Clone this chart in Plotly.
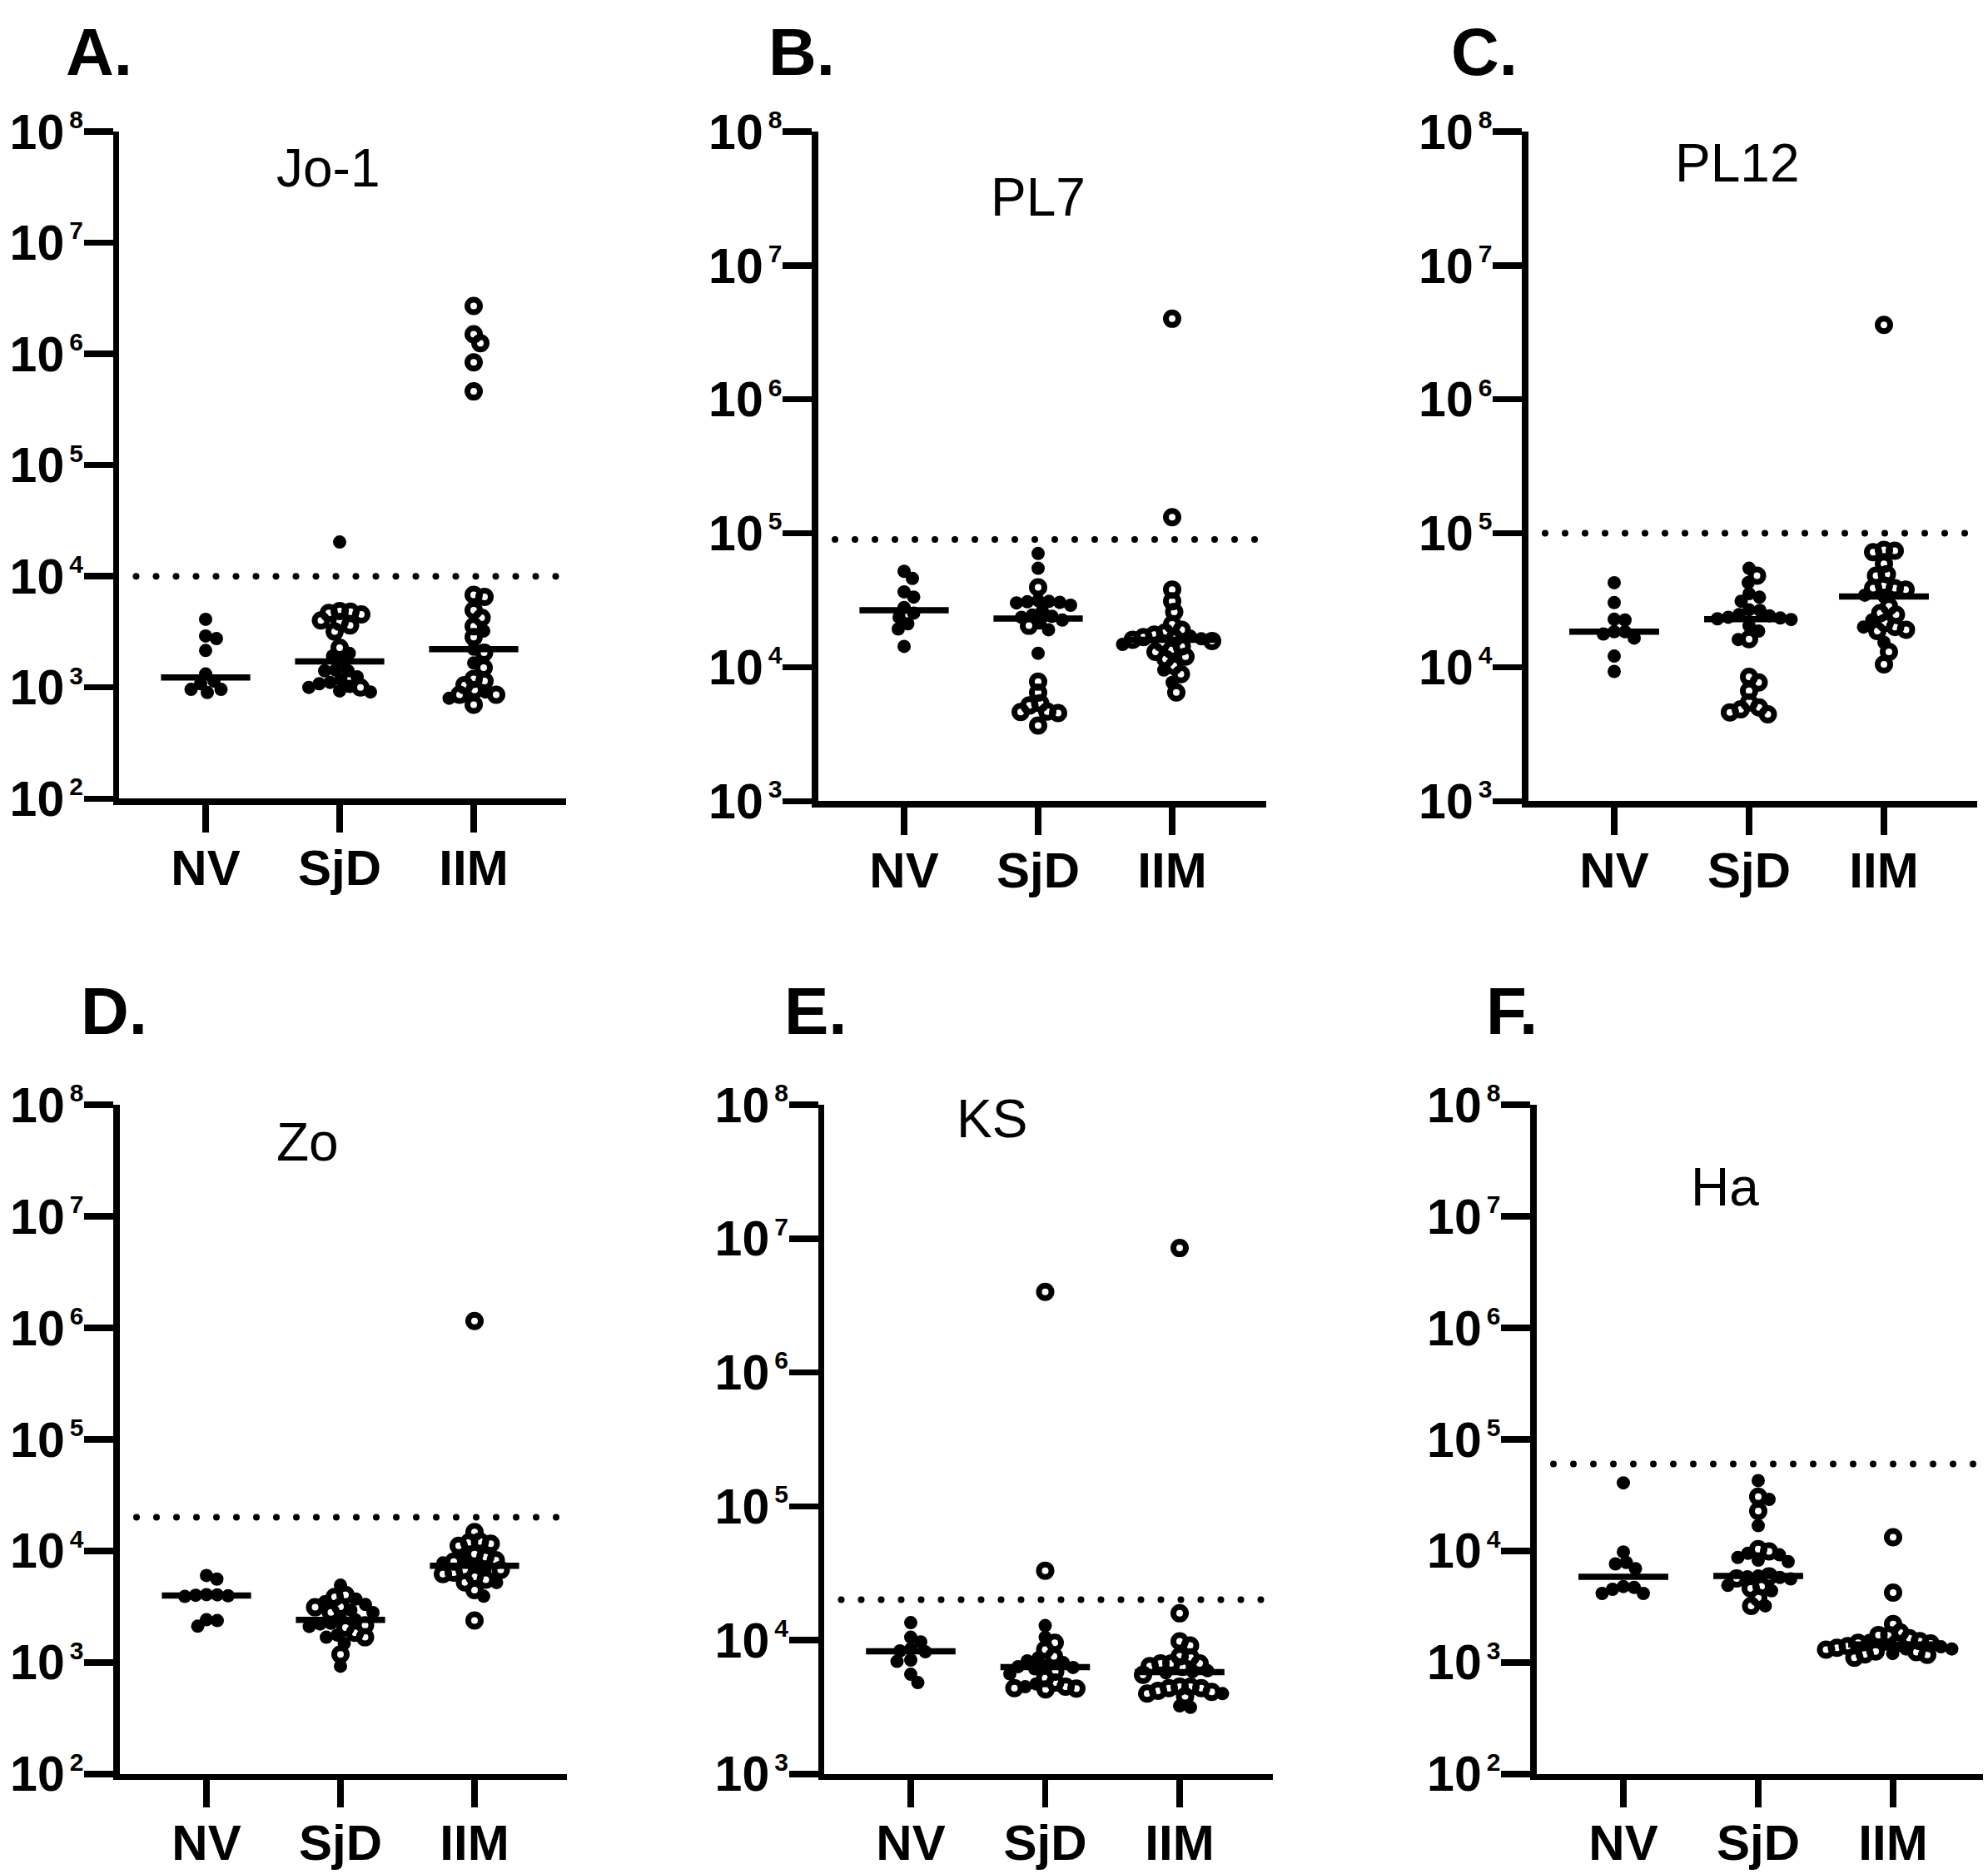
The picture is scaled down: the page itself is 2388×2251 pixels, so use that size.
import numpy as np
import plotly.graph_objects as go

# ---------------- data ----------------
GROUPS = ["NV", "SjD", "IIM"]
PANEL_TITLES = ["Jo-1", "PL7", "PL12", "Zo", "KS", "Ha"]
PANEL_LETTERS = ["A.", "B.", "C.", "D.", "E.", "F."]
CUTOFFS = [1e4, 9e4, 1e5, 2e4, 2e4, 6e4]
Y_LOG_MIN = [2, 3, 3, 2, 3, 2]
Y_LOG_MAX = 8

# A. Jo-1
A_NV_filled = [4100, 2750, 2900, 2150, 1320, 1140, 1080, 960, 960, 900]
A_SjD_filled = [20300, 1920, 2030, 1710, 1410, 1430, 1410, 1245, 1175, 1080, 1110, 1020, 910, 930, 1000]
A_SjD_open = [4870, 4680, 4540, 4800, 3890, 4000, 3180, 3610, 2280, 1000]
A_IIM_filled = [3220, 2210, 1660, 910, 800]
A_IIM_open = [2.7e6, 1.5e6, 1.25e6, 8.4e5, 4.6e5, 6530, 6800, 4950, 4240, 3550, 2835, 2050,
              1505, 1195, 1140, 1050, 860, 860, 950, 700]

# B. PL7
B_NV_filled = [46000, 52000, 33400, 36500, 23600, 25350, 27900, 19300, 21100, 14300]
B_SjD_filled = [70600, 54800, 31000, 30500, 30800, 30200, 29000, 31500, 26500, 23600, 21400,
                24000, 22500, 19050, 24500, 12700]
B_SjD_open = [39500, 20400, 7800, 6460, 5380, 5180, 4630, 4550, 4660, 3670]
B_IIM_filled = [17000, 16300, 14800, 9530, 7690]
B_IIM_open = [4.0e6, 1.32e5, 38000, 31100, 25900, 20900, 19000, 18150, 17500, 16800, 16500,
              16000, 15700, 15200, 14300, 13500, 13000, 12000, 11540, 10240, 8870, 6470]

# C. PL12
C_NV_filled = [42750, 30350, 22500, 22800, 17700, 18400, 16500, 18400, 12100, 9300]
C_SjD_filled = [54800, 42800, 33300, 35400, 31100, 23600, 24200, 23000, 26550, 23300, 24700,
                26850, 22700, 20400, 18600, 16100]
C_SjD_open = [48200, 16200, 8470, 7690, 6670, 5460, 5010, 4840, 4600, 4450]
C_IIM_filled = [33700, 34500, 19950, 22500, 15340]
C_IIM_open = [3.6e6, 72300, 75100, 74100, 59100, 48200, 49400, 40800, 38900, 38000, 38900,
              28500, 25350, 24700, 21400, 19050, 19950, 18600, 13000, 10500]

# D. Zo
D_NV_filled = [5580, 6010, 4030, 3900, 4050, 3950, 4000, 2110, 2410, 2370]
D_SjD_filled = [4920, 3300, 3490, 3700, 2940, 2800, 2210, 2400, 2500, 1760, 2240, 1680, 1480, 923, 2100]
D_SjD_open = [3850, 4030, 3150, 3120, 2810, 2050, 2150, 1840, 1680, 1180]
D_IIM_filled = [8600, 7350, 6900, 5200, 3920, 7800]
D_IIM_open = [1.15e6, 14760, 11940, 11090, 11580, 12140, 9330, 8810, 8000, 8250, 6740, 6190,
              5850, 6740, 6370, 5210, 5520, 4450, 2370]

# E. KS
E_NV_filled = [13490, 9680, 10500, 8570, 8170, 8300, 7090, 6930, 5550, 4810]
E_SjD_filled = [12830, 10500, 7360, 6240, 6330, 6100, 4480, 4700, 6400, 6800, 7000, 5600]
E_SjD_open = [4.0e6, 33000, 9550, 8490, 7550, 4340, 4480, 4280, 4370, 4810, 5800, 5200]
E_IIM_filled = [5810, 3980, 3140, 3220, 5700, 5900]
E_IIM_open = [8.5e6, 15850, 9790, 9120, 7550, 7430, 6700, 6400, 6700, 6700, 4480, 4180, 4370,
              3980, 3800, 4480, 4370, 6300, 4100, 5500]

# F. Ha
F_NV_filled = [40700, 9770, 7870, 7640, 6930, 4150, 4790, 4520, 4700, 4150]
F_SjD_filled = [42660, 28960, 16830, 8240, 8710, 8000, 9220, 9500, 5780, 5600, 5950, 4900, 3210, 4390, 5850]
F_SjD_open = [30600, 22750, 10350, 9890, 5650, 4800, 4610, 3810, 3210, 5900]
F_IIM_filled = [1320, 1320, 1570, 1450, 1380, 1200]
F_IIM_open = [13250, 4220, 2210, 1760, 1860, 1760, 1480, 1180, 1100, 1170, 1235, 1500, 1480,
              1400, 1650, 1300, 1250, 1550, 1350]

PANEL_DATA = [
    [(A_NV_filled, []), (A_SjD_filled, A_SjD_open), (A_IIM_filled, A_IIM_open)],
    [(B_NV_filled, []), (B_SjD_filled, B_SjD_open), (B_IIM_filled, B_IIM_open)],
    [(C_NV_filled, []), (C_SjD_filled, C_SjD_open), (C_IIM_filled, C_IIM_open)],
    [(D_NV_filled, []), (D_SjD_filled, D_SjD_open), (D_IIM_filled, D_IIM_open)],
    [(E_NV_filled, []), (E_SjD_filled, E_SjD_open), (E_IIM_filled, E_IIM_open)],
    [(F_NV_filled, []), (F_SjD_filled, F_SjD_open), (F_IIM_filled, F_IIM_open)],
]

# ---------------- layout geometry (page pixels) ----------------
W, H = 2388, 2251
LW = 7.5
FONT = "Liberation Sans, Arial, Helvetica, sans-serif"
GEOM = [
    dict(L=139.5, nv=247, s=161, R=680, top=158, bot=963, lx=77, ly=62, tx=394, ty=202),
    dict(L=979, nv=1086, s=161, R=1521, top=158, bot=966, lx=921, ly=62, tx=1247, ty=237),
    dict(L=1832, nv=1939, s=162, R=2375, top=158, bot=966, lx=1741, ly=62, tx=2086, ty=196),
    dict(L=140, nv=248, s=161, R=681, top=1327, bot=2134.5, lx=95, ly=1214, tx=369, ty=1372),
    dict(L=986.5, nv=1094, s=161.5, R=1529, top=1327, bot=2134.5, lx=940, ly=1214, tx=1191, ty=1344),
    dict(L=1842, nv=1950, s=162, R=2382, top=1327, bot=2134.5, lx=1783, ly=1214, tx=2072, ty=1426),
]
SWARM_D = 13.0


def swarm(ypx, d):
    """Simple beeswarm: place each point as close to the centre as possible without overlap."""
    n = len(ypx)
    xs = np.zeros(n)
    placed = []
    order = np.argsort(ypx)
    for i in order:
        y = ypx[i]
        chosen = 0.0
        for k in range(0, 400):
            found = False
            for sgn in ([0] if k == 0 else [1, -1]):
                off = sgn * k * 0.5
                if all((off - px) ** 2 + (y - py) ** 2 >= d * d for px, py in placed):
                    chosen = off
                    found = True
                    break
            if found:
                break
        placed.append((chosen, y))
        xs[i] = chosen
    return xs


def sup_label(e):
    return f"<b>10<sup><span style='font-size:30px'>\u2009{e}</span></sup></b>"


fig = go.Figure()
layout = dict(
    width=W, height=H, margin=dict(l=0, r=0, t=0, b=0, pad=0, autoexpand=False), autosize=False,
    paper_bgcolor="white", plot_bgcolor="white", showlegend=False,
    font=dict(family=FONT, color="black"),
)
annotations = []

for k in range(6):
    g = GEOM[k]
    xa = "x" if k == 0 else f"x{k + 1}"
    ya = "y" if k == 0 else f"y{k + 1}"
    lmin = Y_LOG_MIN[k]
    dl = g["L"] + LW / 2
    db = g["bot"] - LW / 2

    def ypx(v, g=g, lmin=lmin, db=db):
        return g["top"] + (Y_LOG_MAX - np.log10(v)) / (Y_LOG_MAX - lmin) * (db - g["top"])

    # cutoff dotted line
    px = np.arange(g["L"] + 24, g["R"] - 2, 24.0)
    fig.add_trace(go.Scatter(
        x=(px - g["nv"]) / g["s"], y=[CUTOFFS[k]] * len(px), xaxis=xa, yaxis=ya,
        mode="markers", marker=dict(symbol="circle", size=8, color="black"),
        hoverinfo="skip", cliponaxis=False))

    for gi, (filled, opened) in enumerate(PANEL_DATA[k]):
        vals = np.array(list(filled) + list(opened), dtype=float)
        is_open = np.array([False] * len(filled) + [True] * len(opened))
        offs = swarm(ypx(vals), SWARM_D)
        xs = gi + offs / g["s"]
        fig.add_trace(go.Scatter(
            x=xs[~is_open], y=vals[~is_open], xaxis=xa, yaxis=ya, mode="markers",
            marker=dict(symbol="circle", size=16, color="black", line=dict(width=0)),
            hoverinfo="skip", cliponaxis=False))
        if is_open.any():
            fig.add_trace(go.Scatter(
                x=xs[is_open], y=vals[is_open], xaxis=xa, yaxis=ya, mode="markers",
                marker=dict(symbol="circle-open", size=15, color="black",
                            line=dict(width=7, color="black")),
                hoverinfo="skip", cliponaxis=False))
        med = float(np.median(vals))
        fig.add_trace(go.Scatter(
            x=[gi - 0.333, gi + 0.333], y=[med, med], xaxis=xa, yaxis=ya, mode="lines",
            line=dict(color="black", width=LW), hoverinfo="skip", cliponaxis=False))

    xr = [-(g["nv"] - dl) / g["s"], (g["R"] - g["nv"]) / g["s"]]
    xkey = "xaxis" if k == 0 else f"xaxis{k + 1}"
    ykey = "yaxis" if k == 0 else f"yaxis{k + 1}"
    layout[xkey] = dict(
        domain=[dl / W, g["R"] / W], range=xr, anchor=ya, automargin=False,
        showline=True, linewidth=LW, linecolor="black", mirror=False,
        ticks="outside", ticklen=33, tickwidth=LW, tickcolor="black",
        tickvals=[0, 1, 2], ticktext=[f"<b>{t}</b>" for t in GROUPS],
        tickfont=dict(size=60, family=FONT, color="black"), ticklabelstandoff=-9,
        showgrid=False, zeroline=False, fixedrange=True)
    layout[ykey] = dict(
        type="log", domain=[1 - db / H, 1 - g["top"] / H], range=[lmin, Y_LOG_MAX], anchor=xa,
        automargin=False,
        showline=True, linewidth=LW, linecolor="black", mirror=False,
        ticks="outside", ticklen=35, tickwidth=LW, tickcolor="black",
        tickvals=[10.0 ** e for e in range(lmin, Y_LOG_MAX + 1)],
        ticktext=[sup_label(e) for e in range(lmin, Y_LOG_MAX + 1)],
        tickfont=dict(size=59, family=FONT, color="black"), ticklabelstandoff=-11,
        showgrid=False, zeroline=False, fixedrange=True)

    annotations.append(dict(
        text=f"<b>{PANEL_LETTERS[k]}</b>", x=g["lx"] / W, y=1 - g["ly"] / H,
        xref="paper", yref="paper", xanchor="left", yanchor="middle", showarrow=False,
        font=dict(size=80, family=FONT, color="black")))
    annotations.append(dict(
        text=PANEL_TITLES[k], x=g["tx"] / W, y=1 - g["ty"] / H,
        xref="paper", yref="paper", xanchor="center", yanchor="middle", showarrow=False,
        font=dict(size=64, family=FONT, color="black")))

layout["annotations"] = annotations
fig.update_layout(**layout)
fig.write_html("out.html", config={"displayModeBar": False, "staticPlot": True},
               post_script="document.body.style.margin='0px';")
